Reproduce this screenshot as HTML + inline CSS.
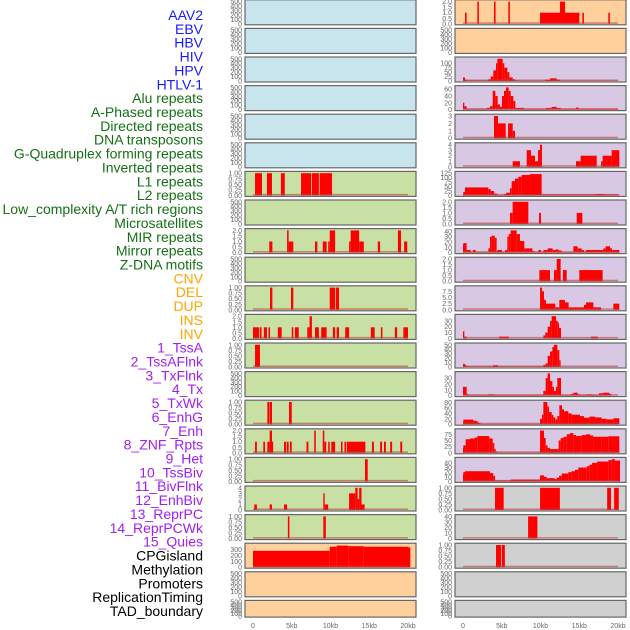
<!DOCTYPE html>
<html><head><meta charset="utf-8"><style>
body{margin:0;background:#fff;width:630px;height:630px;overflow:hidden}
svg{display:block;font-family:"Liberation Sans",sans-serif}
</style></head><body>
<svg id="chart" width="630" height="630" viewBox="0 0 630 630"></svg>
<script>
const labels = ["AAV2","EBV","HBV","HIV","HPV","HTLV-1","Alu repeats","A-Phased repeats","Directed repeats","DNA transposons","G-Quadruplex forming repeats","Inverted repeats","L1 repeats","L2 repeats","Low_complexity A/T rich regions","Microsatellites","MIR repeats","Mirror repeats","Z-DNA motifs","CNV","DEL","DUP","INS","INV","1_TssA","2_TssAFlnk","3_TxFlnk","4_Tx","5_TxWk","6_EnhG","7_Enh","8_ZNF_Rpts","9_Het","10_TssBiv","11_BivFlnk","12_EnhBiv","13_ReprPC","14_ReprPCWk","15_Quies","CPGisland","Methylation","Promoters","ReplicationTiming","TAD_boundary"];
const labelGroups = [6,13,5,15,5];
const groupColors = ["#1a1aff","#157015","#ffa500","#a020f0","#000000"];
const xTicks = [0,5,10,15,20];
const xTickLabels = ["0","5kb","10kb","15kb","20kb"];

const emptyTicks = [0,100,200,300,400,500];
const quarterTicks = [0,0.25,0.5,0.75,1];
const halfTicks2 = [0,0.5,1,1.5,2];

const c1r6x = [0.26,1.16,1.8,2.45,3.6,4.1,6.2,7.5,7.6,8.5,8.6,10.2];
const c1r6v = [1,0,1,0,1,0,1,0,1,0,1];
const c1r8x = [2.1,2.5,4.4,4.6,5.2,8.0,8.3,9.0,9.5,9.7,9.9,10.6,12.4,12.6,13.7,14.3,16.1,16.4,18.7,19.1,19.5,19.9];
const c1r8v = [1,0,2,1,0,1,0,1,0,1,2,0,1,2,1,0,1,0,2,0,1];
const c1r10x = [2.2,2.5,4.9,5.2,9.9,10.6,10.7,11.1];
const c1r10v = [1,0,1,0,1,0,1];
const c1r11x = [0,0.8,0.9,1.1,1.4,1.8,2.0,2.2,3.2,3.7,5.0,5.2,5.4,5.9,7.0,7.3,7.6,8.0,8.5,8.8,9.5,10.3,10.6,10.8,11.1,11.9,12.4,15.2,15.7,16.5,16.7,18.3,18.6,19.4,20.0];
const c1r11v = [1,0,1,0,1,0,1,0,1,0,1,0,1,0,1,2,0,1,0,1,0,1,0,1,0,1,0,1,0,1,0,1,0,1];
const c1r12x = [0.26,0.9];
const c1r12v = [1];
const c1r14x = [1.85,2.1,2.15,2.45,4.65,5.0];
const c1r14v = [1,0,1,0,1];
const c1r15x = [0.26,0.5,1.33,1.55,1.85,2.15,2.45,2.6,4.0,4.25,4.35,4.6,4.77,5.0,6.9,7.15,7.9,8.1,9.0,9.2,9.45,9.7,9.9,10.1,10.6,11.35,11.55,11.8,12.0,12.1,14.5,15.35,15.6,16.4,16.65,16.9,17.15,17.7,17.95,19.0,19.25];
const c1r15v = [1,0,1,0,1,2,1,0,1,0,1,0,1,0,1,0,2,0,2,1,0,1,0,1,0,1,0,1,0,1,0,1,0,1,0,1,0,1,0,1];
const c1r16x = [14.45,14.8];
const c1r16v = [1];
const c1r17x = [0.17,0.5,2.15,2.45,4.0,4.4,9.07,9.25,9.7,12.4,13.2,13.5,13.7,14.0,14.4];
const c1r17v = [1,0,1,0,1,0,3,1,0,3,4,2,4,1];
const c1r18x = [4.5,4.7,9.07,9.4];
const c1r18v = [1,0,1];
const c1r19x = [0,9.9,10.8,12.3,14.3,20.0,20.3];
const c1r19v = [280,350,370,360,350,340];

const c2r0x = [0.26,0.47,1.85,2.05,4.0,4.2,5.85,6.05,9.94,12.52,13.16,15.01,15.4,15.6,18.75,18.95];
const c2r0v = [1,0,2,0,2,0,2,0,1,2,1,0,1,0,1];
const c2r2x = [0,0.26,0.47,3.27,3.57,3.91,4.26,4.43,5.12,5.33,5.72,5.98,6.41,6.71,7.14,10.58,11.23,12.09,12.52,20.04];
const c2r2v = [20,8,3,10,25,60,100,125,100,75,50,20,10,3,2,8,15,8,2];
const c2r3x = [0,0.17,0.47,3.05,3.48,3.83,4.17,4.47,4.77,5.03,5.29,5.55,5.89,6.15,6.49,6.75,7.87,10.71,11.44,12.09,12.6,14.58,14.92,20.04];
const c2r3v = [20,10,2,5,10,55,40,15,8,40,55,65,55,40,25,5,2,5,8,5,2,6,2];
const c2r4x = [4.0,4.52,5.51,5.81,6.41,6.71];
const c2r4v = [3,2,0,2,1];
const c2r5x = [6.41,7.35,8.22,8.77,9.29,9.68,9.94,10.19,14.58,15.18,17.25,17.81,18.02,19.18,20.17];
const c2r5v = [1,0,3,2,1,3,4,0,1,2,0,1,2,3];
const c2r6x = [0,0.04,0.26,3.27,3.57,4.0,4.43,5.29,5.55,6.06,6.28,6.71,7.14,7.57,8.65,10.15,17.16,18.19,20.17];
const c2r6v = [8,20,45,35,25,10,3,8,15,40,80,95,105,115,120,5,8,5];
const c2r7x = [6.06,6.41,8.43,9.81,10.06,14.67,15.4];
const c2r7v = [1,2,0,1,0,1];
const c2r8x = [0,0.04,0.47,0.99,1.25,1.63,3.27,3.48,3.7,4.09,4.34,4.43,5.03,5.42,5.72,5.89,6.15,6.92,7.35,7.91,8.95,9.2,9.72,10.06,10.37,10.92,11.57,11.96,12.34,12.73,14.24,14.8,15.31,15.61,15.83,18.11,18.41,18.97,19.23,20.17];
const c2r8v = [15,18,5,1,5,1,8,30,32,28,1,5,1,5,30,35,42,35,22,8,3,1,5,1,5,8,5,6,4,1,12,8,5,1,5,8,12,8,5];
const c2r9x = [9.85,11.23,11.74,12.09,12.6,12.9,13.38,15.01,18.02];
const c2r9v = [1,0,1,2,0,1,0,1];
const c2r10x = [9.94,10.19,10.45,10.71,11.91,12.43,13.16,13.63,15.61,15.87,16.82,17.81,19.4,20.17];
const c2r10v = [9,7.5,4,2.5,1,4,3,1,2,3,1,0,2.5];
const c2r11x = [0,0.17,0.47,4.65,5.89,10.37,10.62,10.92,11.23,11.44,12.0,12.22,12.39,12.65,16.52,17.38];
const c2r11v = [12,3,0,3,0,5,10,20,30,38,30,27,18,0,3];
const c2r12x = [0,0.26,0.47,3.87,4.52,10.37,10.67,10.92,11.23,11.53,11.74,12.17,12.43,12.6];
const c2r12v = [7,4,1,4,1,5,8,25,35,45,50,38,15];
const c2r13x = [0,0.47,0.69,3.23,4.09,10.37,10.67,10.92,11.23,11.53,11.74,12.0,12.17,12.65,13.94,14.24,14.8,15.1,15.96,16.73,17.55,18.11,18.88,19.14];
const c2r13v = [15,3,1,2,1,8,30,38,25,15,8,15,30,1,3,5,2,1,2,1,4,5,3];
const c2r14x = [0,0.04,1.33,1.76,1.98,2.28,9.94,10.19,10.37,10.88,11.1,11.44,11.66,11.91,12.17,12.43,12.77,13.03,13.59,14.02,15.1,15.61,16.3,17.03,17.89,18.54,19.4,20.17];
const c2r14v = [8,17,13,10,4,1,20,35,82,65,45,35,25,18,30,70,55,48,40,35,30,24,28,25,20,18,22];
const c2r15x = [0,0.04,0.34,0.9,1.55,1.85,3.4,3.83,4.04,4.22,4.43,9.94,10.45,10.67,10.92,11.23,12.34,12.6,12.95,13.38,13.81,14.24,14.58,15.31,15.87,16.39,16.82,17.89,18.75,20.17];
const c2r15v = [20,30,55,58,62,68,58,40,15,5,1,90,60,30,20,15,50,60,65,75,80,72,68,72,75,70,65,65,67];
const c2r16x = [0,0.04,0.26,3.48,3.91,4.13,6.15,9.94,10.45,10.8,11.8,12.09,12.39,12.73,13.59,14.02,14.45,14.88,15.96,16.3,16.65,17.3,18.75,19.2,19.6,20.26];
const c2r16v = [15,20,22,18,12,2,4,13,10,7,5,8,12,17,20,22,25,30,33,36,40,43,46,48,45];
const c2r17x = [4.13,5.25,9.94,12.5,18.6,19.1,19.5,20.1];
const c2r17v = [1,0,1,0,1,0,1];
const c2r18x = [8.4,9.6];
const c2r18v = [40];
const c2r19x = [4.26,4.9,5.0,5.4];
const c2r19v = [1,0,1];

const BLUE="#c8e4ec",GREEN="#c8e0a4",ORANGE="#ffd09c",PURPLE="#d8c8e4",GRAY="#d0d0d0";
function E(bg){return {bg:bg,ticks:emptyTicks,max:500,xs:null,vs:null};}
function P(bg,ticks,max,xs,vs){return {bg:bg,ticks:ticks,max:max,xs:xs,vs:vs};}
const col1 = [E(BLUE),E(BLUE),E(BLUE),E(BLUE),E(BLUE),E(BLUE),
 P(GREEN,quarterTicks,1,c1r6x,c1r6v),E(GREEN),P(GREEN,halfTicks2,2,c1r8x,c1r8v),E(GREEN),
 P(GREEN,quarterTicks,1,c1r10x,c1r10v),P(GREEN,halfTicks2,2,c1r11x,c1r11v),P(GREEN,quarterTicks,1,c1r12x,c1r12v),E(GREEN),
 P(GREEN,quarterTicks,1,c1r14x,c1r14v),P(GREEN,halfTicks2,2,c1r15x,c1r15v),P(GREEN,quarterTicks,1,c1r16x,c1r16v),
 P(GREEN,[0,1,2,3,4],4,c1r17x,c1r17v),P(GREEN,quarterTicks,1,c1r18x,c1r18v),P(ORANGE,[0,100,200,300],380,c1r19x,c1r19v),
 E(ORANGE),E(ORANGE)];
const col2 = [P(ORANGE,halfTicks2,2,c2r0x,c2r0v),E(ORANGE),
 P(PURPLE,[0,25,50,75,100],125,c2r2x,c2r2v),P(PURPLE,[0,20,40,60],65,c2r3x,c2r3v),P(PURPLE,[0,1,2,3],3,c2r4x,c2r4v),
 P(PURPLE,[0,1,2,3,4],4,c2r5x,c2r5v),P(PURPLE,[0,25,50,75,100,125],125,c2r6x,c2r6v),P(PURPLE,halfTicks2,2,c2r7x,c2r7v),
 P(PURPLE,[0,10,20,30,40],42,c2r8x,c2r8v),P(PURPLE,halfTicks2,2,c2r9x,c2r9v),P(PURPLE,[0,2.5,5,7.5],9,c2r10x,c2r10v),
 P(PURPLE,[0,10,20,30],38,c2r11x,c2r11v),P(PURPLE,[0,10,20,30,40,50],50,c2r12x,c2r12v),P(PURPLE,[0,10,20,30],38,c2r13x,c2r13v),
 P(PURPLE,[0,20,40,60,80],82,c2r14x,c2r14v),P(PURPLE,[0,25,50,75],90,c2r15x,c2r15v),P(PURPLE,[0,10,20,30,40],48,c2r16x,c2r16v),
 P(GRAY,quarterTicks,1,c2r17x,c2r17v),P(GRAY,[0,10,20,30,40],40,c2r18x,c2r18v),P(GRAY,quarterTicks,1,c2r19x,c2r19v),
 E(GRAY),E(GRAY)];

const NS="http://www.w3.org/2000/svg";
const svg=document.getElementById("chart");
function el(tag,attrs,parent){const e=document.createElementNS(NS,tag);for(const k in attrs)e.setAttribute(k,attrs[k]);(parent||svg).appendChild(e);return e;}

let gi=0,cnt=0;
labels.forEach((t,i)=>{
  if(cnt>=labelGroups[gi]){gi++;cnt=0;}cnt++;
  const tx=el("text",{x:203,y:15+i*13.86+5,"text-anchor":"end","font-size":"14",fill:groupColors[gi]});
  tx.textContent=t;
  
  
});

function fmt(v,ticks){
  const step=ticks[1]-ticks[0];
  if(step===0.25)return v.toFixed(2);
  if(step===0.5||step===2.5)return v.toFixed(1);
  return String(v);
}
function drawCol(col,left,x0px,name){
  const pxPerKb=7.75;
  const xs=kb=>x0px+kb*pxPerKb;
  col.forEach((p,r)=>{
    const top=r*28.6-0.2, h=(r===21?16.7:25);
    const g=el("g",{});
    
    
    el("rect",{x:left,y:top,width:171,height:h,fill:p.bg,stroke:"#666","stroke-width":1.2},g);
    const ybot=top+h-1, ytop=top+1.8;
    const ys=v=>ybot-(v/p.max)*(ybot-ytop);
    p.ticks.forEach(t=>{
      const tt=el("text",{x:left-3,y:ys(t)+2.5,"text-anchor":"end","font-size":"7",fill:"#666"},g);
      tt.textContent=fmt(t,p.ticks);
      
      
    });
    if(p.xs){
      for(let i=0;i<p.vs.length;i++){
        if(p.vs[i]<=0)continue;
        const a=xs(p.xs[i]),b=xs(p.xs[i+1]);
        const br=el("rect",{x:a,y:ys(p.vs[i]),width:Math.max(b-a,1),height:ybot-ys(p.vs[i]),fill:"#ff0000"},g);
        
        
      }
      const bl=el("rect",{x:xs(0),y:ybot-1.5,width:xs(20)-xs(0),height:1.5,fill:"#c04040","fill-opacity":"0.6"},g);
      
      
    }
  });
  xTicks.forEach((t,i)=>{
    const tt=el("text",{x:xs(t),y:628,"text-anchor":"middle","font-size":"7",fill:"#666"});
    tt.textContent=xTickLabels[i];
    
    
  });
}
drawCol(col1,245,253,"left");
drawCol(col2,455,463,"right");
</script>
</body></html>
